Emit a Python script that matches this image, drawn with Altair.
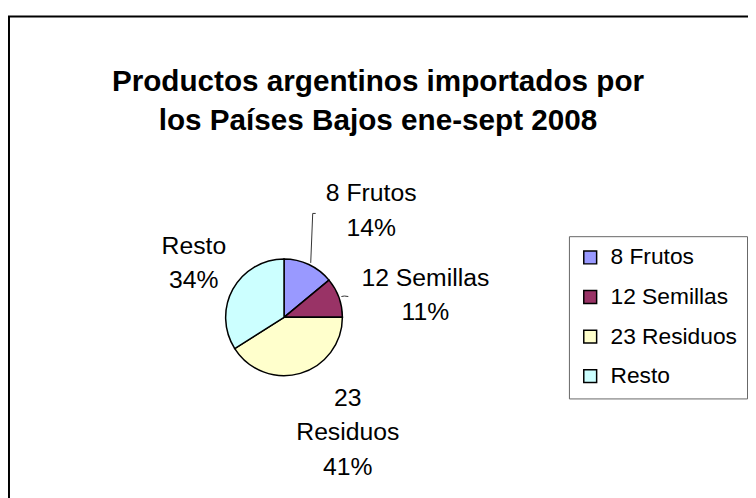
import math
import altair as alt
import pandas as pd

# ---- data ----
categories = ["8 Frutos", "12 Semillas", "23 Residuos", "Resto"]
shares = [14, 11, 41, 34]
label_names = ["8 Frutos", "12 Semillas", "23\nResiduos", "Resto"]
colors = ["#9999FF", "#993366", "#FFFFCC", "#CCFFFF"]
title_lines = ["Productos argentinos importados por", "los Países Bajos ene-sept 2008"]

df = pd.DataFrame({
    "cat": categories,
    "share": shares,
    "idx": list(range(len(categories))),
    "label": [f"{n}\n{s}%" for n, s in zip(label_names, shares)],
})

FONT = "Liberation Sans"
W, H = 748, 490
CX, CY = 279, 310
R = 59
LH = 35

color = alt.Color(
    "cat:N",
    scale=alt.Scale(domain=categories, range=colors),
    legend=alt.Legend(
        title=None, orient="none", legendX=567, legendY=228,
        direction="vertical", columns=1,
        strokeColor="#666666", fillColor="white", padding=10,
        rowPadding=16, symbolType="square", symbolSize=169,
        symbolStrokeColor="black", symbolStrokeWidth=1.5, symbolOpacity=1,
        labelFont=FONT, labelFontSize=23, labelColor="black", labelOffset=9,
        labelLimit=300,
    ),
)

base = alt.Chart(df)

frame = alt.Chart(pd.DataFrame({"a": [0]})).mark_rect(
    filled=False, stroke="black", strokeWidth=2
).encode(x=alt.value(1), y=alt.value(6), x2=alt.value(W + 30), y2=alt.value(H + 30))

pie = base.mark_arc(radius=R, stroke="black", strokeWidth=1.5).encode(
    theta=alt.Theta("share:Q", stack=True),
    order=alt.Order("idx:Q"),
    color=color,
    x=alt.value(CX), y=alt.value(CY),
)

offsets = {0: (37, 1), 1: (30, 18), 2: (31, 1), 3: (14, 3)}
label_layers = []
for i, (ddx, ddy) in offsets.items():
    n_lines = df.loc[i, "label"].count("\n") + 1
    label_layers.append(
        base.transform_window(
            cum="sum(share)", sort=[alt.SortField("idx")], frame=[None, 0]
        ).transform_calculate(
            mid="(datum.cum - datum.share / 2) / 100 * 2 * PI"
        ).transform_filter(alt.datum.idx == i).mark_text(
            radius=120, dx=ddx, dy=ddy - (n_lines - 1) * LH / 2,
            lineBreak="\n", lineHeight=LH,
            font=FONT, fontSize=25, align="center", baseline="middle", color="black",
        ).encode(
            theta=alt.Theta("mid:Q", scale=None),
            text="label:N",
            x=alt.value(CX), y=alt.value(CY),
        )
    )

one = alt.Chart(pd.DataFrame({"a": [0]}))
leaders = [
    ((306, 255), (308, 205)), ((308, 205), (311, 205)),
    ((337, 289), (340, 288.5)), ((340, 288.5), (344, 289)),
]
leader_layers = [
    one.mark_rule(color="#333333", strokeWidth=1).encode(
        x=alt.value(a[0]), y=alt.value(a[1]), x2=alt.value(b[0]), y2=alt.value(b[1])
    )
    for a, b in leaders
]

title_df = pd.DataFrame({"t": ["\n".join(title_lines)]})
title = alt.Chart(title_df).mark_text(
    font=FONT, fontSize=30, fontWeight="bold", align="center", baseline="middle",
    lineBreak="\n", lineHeight=40, color="black",
).encode(text="t:N", x=alt.value(374), y=alt.value(72))

chart = alt.layer(frame, pie, *label_layers, *leader_layers, title).properties(
    width=W, height=H, autosize="none", padding=0, background="white"
).configure_view(stroke=None)

chart.save("out.html", embed_options={"renderer": "svg", "actions": False})
